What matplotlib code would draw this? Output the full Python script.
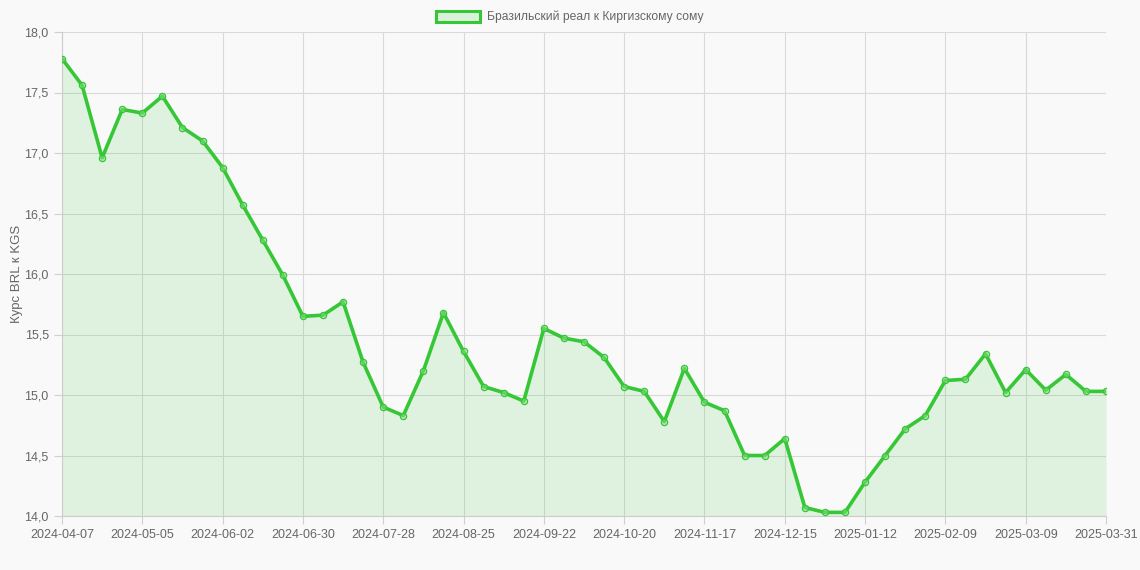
import matplotlib
matplotlib.use("Agg")
import matplotlib.pyplot as plt
from matplotlib.patches import Patch

values = [17.78, 17.56, 16.96, 17.36, 17.33, 17.47, 17.21, 17.10, 16.88, 16.57,
          16.28, 15.99, 15.65, 15.66, 15.77, 15.27, 14.90, 14.83, 15.20, 15.68,
          15.36, 15.07, 15.02, 14.95, 15.55, 15.47, 15.44, 15.31, 15.07, 15.03,
          14.78, 15.22, 14.94, 14.87, 14.50, 14.50, 14.64, 14.07, 14.03, 14.03,
          14.28, 14.50, 14.72, 14.83, 15.12, 15.13, 15.34, 15.02, 15.21, 15.04,
          15.17, 15.03, 15.03]
tick_idx = [0, 4, 8, 12, 16, 20, 24, 28, 32, 36, 40, 44, 48, 52]
tick_labels = ["2024-04-07", "2024-05-05", "2024-06-02", "2024-06-30", "2024-07-28",
               "2024-08-25", "2024-09-22", "2024-10-20", "2024-11-17", "2024-12-15",
               "2025-01-12", "2025-02-09", "2025-03-09", "2025-03-31"]
yticks = [14.0, 14.5, 15.0, 15.5, 16.0, 16.5, 17.0, 17.5, 18.0]
series_label = "Бразильский реал к Киргизскому сому"
ylabel = "Курс BRL к KGS"

plt.rcParams['font.family'] = ['Liberation Sans', 'DejaVu Sans']

bg = "#f9f9f9"
green = "#36c736"
fig = plt.figure(figsize=(11.4, 5.7), dpi=100, facecolor=bg)
W, H = 1140, 570
ax = fig.add_axes([62 / W, 1 - 516 / H, (1106 - 62) / W, (516 - 32) / H])
ax.set_facecolor(bg)

x = list(range(len(values)))
ax.fill_between(x, values, 14.0, color=green, alpha=0.13, linewidth=0, zorder=2)
ax.plot(x, values, color=green, linewidth=2.6, zorder=3,
        marker="o", markersize=4.5, markerfacecolor=(0.55, 0.87, 0.55, 0.5),
        markeredgecolor=green, markeredgewidth=0.9)

ax.set_xlim(0, len(values) - 1)
ax.set_ylim(14.0, 18.0)
ax.set_xticks(tick_idx)
ax.set_xticklabels(tick_labels)
ax.set_yticks(yticks)
ax.set_yticklabels([f"{v:.1f}".replace(".", ",") for v in yticks])
ax.grid(True, color="#d9d9d9", linewidth=0.8, zorder=1)
ax.tick_params(axis="both", colors="#d0d0d0", labelcolor="#666666",
               labelsize=9, length=6, width=0.8)
for s in ["top", "right"]:
    ax.spines[s].set_visible(False)
for s in ["left", "bottom"]:
    ax.spines[s].set_color("#cccccc")
    ax.spines[s].set_linewidth(0.8)
ax.set_ylabel(ylabel, color="#666666", fontsize=9.5, labelpad=1)

handle = Patch(facecolor=(0.21, 0.78, 0.21, 0.15), edgecolor=green, linewidth=2.2)
fig.legend([handle], [series_label], loc="upper center", bbox_to_anchor=(0.5, 1.0),
           frameon=False, fontsize=8.7, labelcolor="#666666",
           handlelength=3.6, handleheight=1.0, handletextpad=0.6)

fig.savefig("out.png", dpi=100, facecolor=bg)
